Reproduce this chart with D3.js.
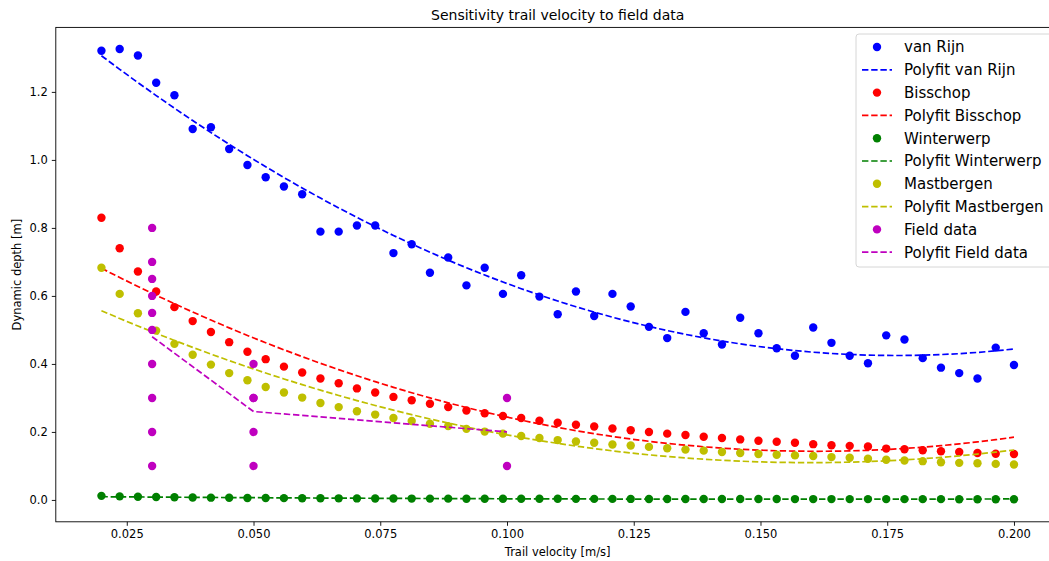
<!DOCTYPE html>
<html>
<head>
<meta charset="utf-8">
<script src="https://cdn.jsdelivr.net/npm/d3@7"></script>
<style>
  html, body { margin: 0; padding: 0; background: #fff; }
  text { font-family: "DejaVu Sans", sans-serif; fill: #000; }
</style>
</head>
<body>
<svg id="chart" width="1049" height="561"></svg>
<script>
// Trail velocity samples [m/s]
const velocity = [0.0200, 0.0236, 0.0272, 0.0308, 0.0344, 0.0380, 0.0416, 0.0452, 0.0488, 0.0524,
  0.0560, 0.0596, 0.0632, 0.0668, 0.0704, 0.0740, 0.0776, 0.0812, 0.0848, 0.0884,
  0.0920, 0.0956, 0.0992, 0.1028, 0.1064, 0.1100, 0.1136, 0.1172, 0.1208, 0.1244,
  0.1280, 0.1316, 0.1352, 0.1388, 0.1424, 0.1460, 0.1496, 0.1532, 0.1568, 0.1604,
  0.1640, 0.1676, 0.1712, 0.1748, 0.1784, 0.1820, 0.1856, 0.1892, 0.1928, 0.1964, 0.2000];

// Dynamic depth [m] per formulation
const vanRijn = [1.321, 1.326, 1.307, 1.227, 1.190, 1.091, 1.096, 1.032, 0.985, 0.949,
  0.922, 0.899, 0.789, 0.789, 0.807, 0.807, 0.726, 0.752, 0.668, 0.713,
  0.631, 0.683, 0.606, 0.661, 0.598, 0.546, 0.613, 0.541, 0.606, 0.569,
  0.509, 0.476, 0.553, 0.490, 0.457, 0.536, 0.490, 0.446, 0.424, 0.507,
  0.462, 0.424, 0.402, 0.484, 0.472, 0.417, 0.389, 0.373, 0.357, 0.448, 0.397];

const bisschop = [0.830, 0.740, 0.672, 0.613, 0.567, 0.526, 0.494, 0.464, 0.436, 0.414,
  0.392, 0.375, 0.357, 0.343, 0.328, 0.316, 0.303, 0.293, 0.283, 0.273,
  0.263, 0.255, 0.247, 0.241, 0.233, 0.227, 0.221, 0.216, 0.210, 0.205,
  0.200, 0.195, 0.191, 0.186, 0.182, 0.178, 0.174, 0.171, 0.168, 0.164,
  0.161, 0.159, 0.157, 0.151, 0.149, 0.146, 0.143, 0.141, 0.138, 0.136, 0.135];

const winterwerp = [0.012, 0.0105, 0.0095, 0.0085, 0.0078, 0.0072, 0.0067, 0.0063, 0.0059, 0.0056,
  0.0053, 0.0051, 0.0049, 0.0047, 0.0045, 0.0043, 0.0042, 0.0040, 0.0039, 0.0038,
  0.0037, 0.0036, 0.0035, 0.0034, 0.0033, 0.0033, 0.0032, 0.0031, 0.0031, 0.0030,
  0.0029, 0.0029, 0.0028, 0.0028, 0.0027, 0.0027, 0.0026, 0.0026, 0.0025, 0.0025,
  0.0025, 0.0024, 0.0024, 0.0024, 0.0023, 0.0023, 0.0023, 0.0022, 0.0022, 0.0022, 0.0021];

const mastbergen = [0.683, 0.606, 0.549, 0.498, 0.459, 0.427, 0.398, 0.373, 0.352, 0.332,
  0.316, 0.301, 0.285, 0.273, 0.261, 0.251, 0.241, 0.232, 0.224, 0.217,
  0.209, 0.201, 0.195, 0.188, 0.182, 0.176, 0.172, 0.168, 0.163, 0.160,
  0.156, 0.152, 0.148, 0.145, 0.141, 0.138, 0.135, 0.133, 0.131, 0.129,
  0.126, 0.124, 0.121, 0.118, 0.116, 0.114, 0.111, 0.109, 0.108, 0.106, 0.104];

// Field measurements (one 0.05 m/s reading is repeated at 0.3 m)
const fieldVelocity = [0.03, 0.03, 0.03, 0.03, 0.03, 0.03, 0.03, 0.03, 0.03, 0.03,
  0.05, 0.05, 0.05, 0.05, 0.05, 0.10, 0.10];
const fieldDepth = [0.1, 0.2, 0.3, 0.4, 0.5, 0.55, 0.6, 0.65, 0.7, 0.8,
  0.1, 0.2, 0.3, 0.3, 0.4, 0.1, 0.3];

const xTicks = [0.025, 0.050, 0.075, 0.100, 0.125, 0.150, 0.175, 0.200];
const yTicks = [0.0, 0.2, 0.4, 0.6, 0.8, 1.0, 1.2];

const seriesNames = ["van Rijn", "Bisschop", "Winterwerp", "Mastbergen", "Field data"];
const seriesColors = ["#0000ff", "#ff0000", "#008000", "#bfbf00", "#bf00bf"];

// Second-order least-squares polynomial fit (normal equations)
function polyfit2(xs, ys) {
  const S = [0, 0, 0, 0, 0], T = [0, 0, 0];
  xs.forEach((x, i) => {
    let p = 1;
    for (let k = 0; k < 5; k++) { S[k] += p; if (k < 3) T[k] += p * ys[i]; p *= x; }
  });
  const A = [[S[0], S[1], S[2], T[0]], [S[1], S[2], S[3], T[1]], [S[2], S[3], S[4], T[2]]];
  for (let c = 0; c < 3; c++) {
    let piv = c;
    for (let r = c + 1; r < 3; r++) if (Math.abs(A[r][c]) > Math.abs(A[piv][c])) piv = r;
    [A[c], A[piv]] = [A[piv], A[c]];
    for (let r = 0; r < 3; r++) {
      if (r === c) continue;
      const f = A[r][c] / A[c][c];
      for (let k = c; k < 4; k++) A[r][k] -= f * A[c][k];
    }
  }
  const coef = A.map((row, i) => row[3] / row[i]);
  return x => coef[0] + coef[1] * x + coef[2] * x * x;
}

const svg = d3.select("#chart");
const plot = { left: 55.8, right: 1059.6, top: 27.4, bottom: 521.8 };

const x = d3.scaleLinear().domain([0.011, 0.209]).range([plot.left, plot.right]);
const y = d3.scaleLinear().domain([-0.0643, 1.3897]).range([plot.bottom, plot.top]);

const g = svg.append("g");

// Axes
const xAxis = d3.axisBottom(x).tickValues(xTicks).tickFormat(d3.format(".3f")).tickSize(4).tickPadding(4);
const yAxis = d3.axisLeft(y).tickValues(yTicks).tickFormat(d3.format(".1f")).tickSize(4).tickPadding(4);

const gx = g.append("g").attr("transform", `translate(0,${plot.bottom})`).call(xAxis);
const gy = g.append("g").attr("transform", `translate(${plot.left},0)`).call(yAxis);
[gx, gy].forEach(a => {
  a.select(".domain").remove();
  a.selectAll("text").style("font-family", "DejaVu Sans").style("font-size", "11.5px").attr("fill", "#000");
  a.selectAll("line").attr("stroke", "#000").attr("stroke-width", 0.9);
});

// Data layers
const dataG = g.append("g");
const dash = "6.4,2.8";
const line = d3.line().x(d => x(d[0])).y(d => y(d[1]));

const modelSeries = [vanRijn, bisschop, winterwerp, mastbergen];
modelSeries.forEach((vals, si) => {
  const col = seriesColors[si];
  dataG.append("g").selectAll("circle").data(vals).join("circle")
    .attr("cx", (d, i) => x(velocity[i])).attr("cy", d => y(d)).attr("r", 4.2).attr("fill", col);
  const fit = polyfit2(velocity, vals);
  dataG.append("path").datum(velocity.map(v => [v, fit(v)]))
    .attr("d", line).attr("fill", "none").attr("stroke", col)
    .attr("stroke-width", 1.7).attr("stroke-dasharray", dash);
});

// Field data and its fit
dataG.append("g").selectAll("circle").data(fieldDepth).join("circle")
  .attr("cx", (d, i) => x(fieldVelocity[i])).attr("cy", d => y(d)).attr("r", 4.2).attr("fill", seriesColors[4]);
const fieldFit = polyfit2(fieldVelocity, fieldDepth);
const fieldSorted = fieldVelocity.slice().sort((a, b) => a - b);
dataG.append("path").datum(fieldSorted.map(v => [v, fieldFit(v)]))
  .attr("d", line).attr("fill", "none").attr("stroke", seriesColors[4])
  .attr("stroke-width", 1.7).attr("stroke-dasharray", dash);

// Frame
g.append("rect").attr("x", plot.left).attr("y", plot.top)
  .attr("width", plot.right - plot.left).attr("height", plot.bottom - plot.top)
  .attr("fill", "none").attr("stroke", "#000").attr("stroke-width", 0.9);

// Title and axis labels
svg.append("text").attr("x", (plot.left + plot.right) / 2).attr("y", 20)
  .attr("text-anchor", "middle").style("font-size", "14px")
  .text("Sensitivity trail velocity to field data");
svg.append("text").attr("x", (plot.left + plot.right) / 2).attr("y", 556)
  .attr("text-anchor", "middle").style("font-size", "11.5px")
  .text("Trail velocity [m/s]");
svg.append("text").attr("transform", `translate(21,${(plot.top + plot.bottom) / 2}) rotate(-90)`)
  .attr("text-anchor", "middle").style("font-size", "11.5px")
  .text("Dynamic depth [m]");

// Legend
const legend = svg.append("g");
legend.append("rect").attr("x", 856).attr("y", 34).attr("width", 200).attr("height", 233)
  .attr("rx", 3).attr("fill", "#fff").attr("fill-opacity", 0.8)
  .attr("stroke", "#d6d6d6").attr("stroke-width", 1);
const legendItems = [];
seriesNames.forEach((name, i) => {
  legendItems.push({ label: name, color: seriesColors[i], kind: "dot" });
  legendItems.push({ label: "Polyfit " + name, color: seriesColors[i], kind: "line" });
});
legendItems.forEach((it, i) => {
  const cy = 47 + i * 22.8;
  if (it.kind === "dot") {
    legend.append("circle").attr("cx", 877).attr("cy", cy).attr("r", 4.2).attr("fill", it.color);
  } else {
    legend.append("line").attr("x1", 862).attr("x2", 892).attr("y1", cy).attr("y2", cy)
      .attr("stroke", it.color).attr("stroke-width", 1.7).attr("stroke-dasharray", dash);
  }
  legend.append("text").attr("x", 904).attr("y", cy).attr("dy", "0.36em")
    .style("font-size", "15px").text(it.label);
});
</script>
</body>
</html>
